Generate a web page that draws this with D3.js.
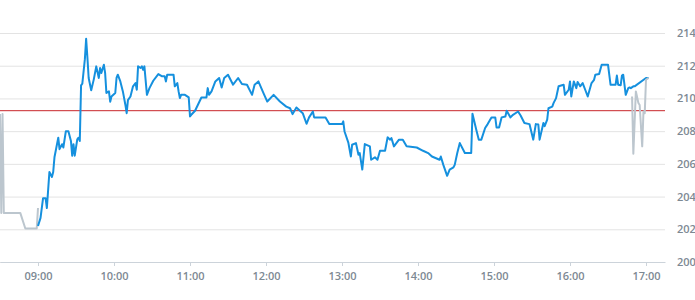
<!DOCTYPE html>
<html>
<head>
<meta charset="utf-8">
<script src="https://cdn.jsdelivr.net/npm/d3@7"></script>
<style>
  body { margin: 0; background: #fff; }
  svg text { font-family: "Open Sans", sans-serif; font-weight: 600; }
</style>
</head>
<body>
<div id="chart"></div>
<script>
// pre-market session (grey)
var preTimes = ["08:30","08:31","08:32","08:33","08:46","08:50","08:59","09:00"];
var preValues = [209.05,203.0,209.05,203.0,203.0,202.05,202.05,203.3];

// regular session (blue)
var mainTimes = ["09:00","09:02","09:04","09:06","09:07","09:09","09:11","09:12","09:13","09:16",
  "09:17","09:19","09:20","09:22","09:24","09:26","09:27","09:28","09:29","09:31",
  "09:32","09:33","09:34","09:35","09:37","09:38","09:39","09:40","09:42","09:44",
  "09:46","09:48","09:49","09:50","09:52","09:53","09:54","09:56","09:57","09:58",
  "10:01","10:02","10:03","10:05","10:07","10:09","10:10","10:11","10:13","10:15",
  "10:17","10:18","10:19","10:21","10:22","10:23","10:24","10:26","10:28","10:31",
  "10:35","10:38","10:40","10:41","10:42","10:47","10:48","10:50","10:51","10:52",
  "10:53","10:56","10:59","11:00","11:01","11:04","11:09","11:13","11:14","11:15",
  "11:17","11:20","11:23","11:25","11:27","11:30","11:34","11:38","11:41","11:45",
  "11:49","11:51","11:54","11:58","12:01","12:06","12:11","12:16","12:19","12:21",
  "12:24","12:29","12:32","12:34","12:37","12:38","12:47","12:50","13:00","13:01",
  "13:02","13:05","13:07","13:08","13:11","13:13","13:14","13:16","13:18","13:22",
  "13:23","13:26","13:28","13:30","13:34","13:36","13:38","13:39","13:41","13:45",
  "13:48","13:51","13:59","14:04","14:08","14:11","14:17","14:18","14:20","14:23",
  "14:25","14:28","14:29","14:31","14:33","14:37","14:42","14:43","14:46","14:48",
  "14:50","14:53","14:55","14:58","15:01","15:02","15:04","15:06","15:09","15:10",
  "15:13","15:15","15:19","15:21","15:24","15:28","15:31","15:33","15:35","15:36",
  "15:39","15:40","15:42","15:43","15:46","15:47","15:49","15:51","15:55","15:56",
  "15:59","16:00","16:01","16:03","16:05","16:06","16:08","16:10","16:12","16:14",
  "16:17","16:19","16:20","16:23","16:25","16:30","16:32","16:36","16:37","16:38",
  "16:40","16:41","16:42","16:44","16:46","16:47","16:48","16:50","16:51","17:00",
  "17:02"];
var mainValues = [202.2,202.7,203.9,203.9,203.3,205.5,205.2,205.5,206.4,207.6,
  206.9,207.2,207.0,208.0,208.0,207.4,206.5,207.2,206.5,207.5,
  207.6,207.4,210.8,210.9,212.4,213.65,212.5,211.25,210.5,211.15,
  211.96,211.25,211.86,211.55,212.06,211.55,210.33,210.43,209.8,210.12,
  210.33,211.25,211.45,211.04,210.43,209.6,209.1,209.9,210.12,210.74,
  210.94,210.53,211.96,211.86,211.96,211.75,211.96,210.22,210.63,211.08,
  211.49,211.35,211.35,211.04,211.45,211.45,210.74,210.94,210.43,210.02,
  210.22,210.22,210.06,208.9,209.0,209.25,210.06,210.06,210.63,210.22,
  210.43,211.04,211.25,210.67,211.25,211.45,210.84,211.25,210.88,210.84,
  210.22,210.84,211.04,210.33,209.81,210.22,209.81,209.5,209.4,209.04,
  209.45,209.1,208.45,208.84,209.2,208.84,208.84,208.43,208.43,208.6,
  207.98,207.3,206.45,207.17,207.27,206.56,206.66,205.65,207.21,207.07,
  206.25,206.4,206.25,206.8,206.8,207.62,207.48,207.58,207.07,207.48,
  207.48,207.07,207.0,206.8,206.66,206.45,206.25,206.45,205.94,205.27,
  205.65,205.79,205.94,206.66,207.27,206.66,206.66,209.06,208.09,207.48,
  207.48,208.19,208.43,208.84,208.84,208.23,208.23,208.84,208.9,209.25,
  208.84,209.0,209.2,208.96,208.5,208.43,207.48,208.43,208.4,207.48,
  208.5,208.3,208.7,209.4,209.5,209.71,210.02,210.74,210.84,210.22,
  210.53,211.04,210.12,211.04,210.63,211.0,210.74,210.94,210.53,210.12,
  210.94,211.14,211.45,211.49,212.06,212.06,210.84,210.84,211.4,210.84,
  210.8,211.4,211.45,210.22,210.63,210.67,210.63,210.74,210.74,211.25,
  211.25];

// after-hours (grey)
var postTimes = ["16:49","16:50","16:52","16:54","16:55","16:57","16:58","16:59","17:00","17:02"];
var postValues = [210.12,206.62,210.43,209.72,209.6,207.07,209.2,209.1,211.14,211.25];

var prevClose = 209.25;
var yTicks = [200,202,204,206,208,210,212,214];
var xTickLabels = ["09:00","10:00","11:00","12:00","13:00","14:00","15:00","16:00","17:00"];
var timeRange = ["08:30","17:15"];

var margin = {top:33, right:30, bottom:38, left:0},
    width = 695 - margin.left - margin.right,
    height = 300 - margin.top - margin.bottom;

var parse = d3.timeParse("%H:%M");
function series(times, values){
  return times.map(function(t,i){ return {t: parse(t), v: values[i]}; });
}

var x = d3.scaleTime().domain(timeRange.map(parse)).range([0,width]);
var y = d3.scaleLinear().domain([200,214]).range([height,0]);

var svg = d3.select("#chart").append("svg")
  .attr("width",695).attr("height",300);
var g = svg.append("g")
  .attr("transform","translate("+margin.left+","+margin.top+")");

// y grid + labels on the right
var yAxis = g.append("g")
  .attr("transform","translate("+width+",0)")
  .call(d3.axisRight(y).tickValues(yTicks).tickSize(-width).tickPadding(12));
yAxis.select(".domain").remove();
yAxis.selectAll("line").attr("stroke","#e3e3e3");
yAxis.selectAll("text").attr("fill","#7d8993").attr("font-size","11px");

// x axis
var xAxis = g.append("g")
  .attr("transform","translate(0,"+height+")")
  .call(d3.axisBottom(x).tickValues(xTickLabels.map(parse))
    .tickFormat(d3.timeFormat("%H:%M")).tickSize(4).tickPadding(6).tickSizeOuter(0));
xAxis.select(".domain").attr("stroke","#ccd3da");
xAxis.selectAll("line").attr("stroke","#ccd3da");
xAxis.selectAll("text").attr("fill","#7d8993").attr("font-size","11px");

// previous close
g.append("line")
  .attr("x1",0).attr("x2",width)
  .attr("y1",y(prevClose)).attr("y2",y(prevClose))
  .attr("stroke","#c8262b").attr("stroke-width",1);

var line = d3.line().x(function(d){return x(d.t);}).y(function(d){return y(d.v);});

g.append("path").datum(series(preTimes,preValues))
  .attr("fill","none").attr("stroke","#bcc6ce").attr("stroke-width",2)
  .attr("stroke-linejoin","round").attr("d",line);

g.append("path").datum(series(mainTimes,mainValues))
  .attr("fill","none").attr("stroke","#1590de").attr("stroke-width",2)
  .attr("stroke-linejoin","round").attr("d",line);

g.append("path").datum(series(postTimes,postValues))
  .attr("fill","none").attr("stroke","#bcc6ce").attr("stroke-width",2)
  .attr("stroke-linejoin","round").attr("d",line);
</script>
</body>
</html>
